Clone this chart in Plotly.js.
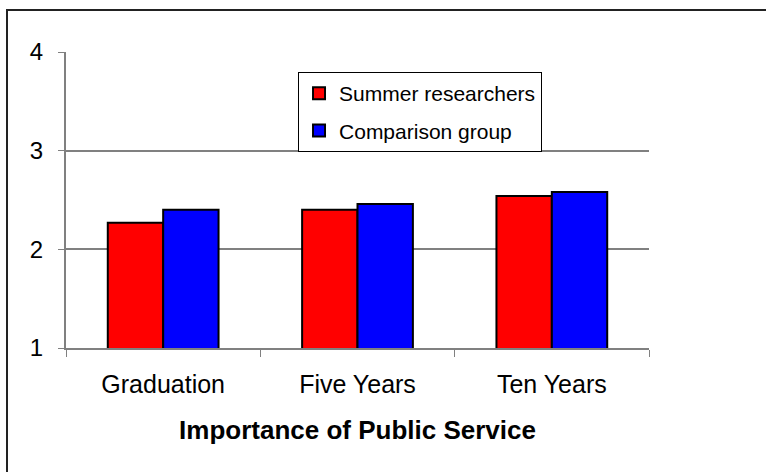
<!DOCTYPE html>
<html>
<head>
<meta charset="utf-8">
<script src="https://cdn.plot.ly/plotly-3.0.1.min.js"></script>
<style>
  html, body { margin: 0; padding: 0; background: #fff; }
  #wrap { position: relative; width: 766px; height: 472px; overflow: hidden; }
  #frame { position: absolute; left: 6px; top: 9px; width: 800px; height: 500px;
           border-left: 2px solid #222; border-top: 2px solid #222; pointer-events: none; }
  #chart { position: absolute; left: 0; top: 0; width: 766px; height: 472px; }
</style>
</head>
<body>
<div id="wrap">
  <div id="chart"></div>
  <div id="frame"></div>
</div>
<script>
// Mean ratings for the importance of public service, by time point
const categories = ['Graduation', 'Five Years', 'Ten Years'];
const summerResearchers = [2.27, 2.40, 2.54];
const comparisonGroup = [2.40, 2.46, 2.58];
const seriesNames = ['Summer researchers', 'Comparison group'];
const yTicks = [1, 2, 3, 4];

const fontFamily = 'Arial, "Liberation Sans", sans-serif';

const traces = [
  {
    type: 'bar', name: seriesNames[0], x: categories, y: summerResearchers,
    legendgroup: 'a',
    marker: { color: '#ff0000', line: { color: '#000000', width: 2 } },
    hoverinfo: 'skip'
  },
  {
    type: 'bar', name: seriesNames[1], x: categories, y: comparisonGroup,
    legendgroup: 'b',
    marker: { color: '#0000ff', line: { color: '#000000', width: 2 } },
    hoverinfo: 'skip'
  }
];

const layout = {
  width: 766, height: 472,
  margin: { l: 66, r: 117, t: 52, b: 124 },
  paper_bgcolor: '#ffffff', plot_bgcolor: '#ffffff',
  font: { family: fontFamily, color: '#000000' },
  barmode: 'group', bargap: 0.43, bargroupgap: 0,
  showlegend: true,
  legend: {
    x: 0.398, y: 0.932, xanchor: 'left', yanchor: 'top',
    bgcolor: '#ffffff', bordercolor: '#000000', borderwidth: 1,
    font: { size: 21, family: fontFamily },
    traceorder: 'grouped', tracegroupgap: 7
  },
  xaxis: {
    type: 'category',
    showline: true, linecolor: '#808080', linewidth: 2,
    ticks: 'outside', tickson: 'boundaries', ticklen: 7, tickcolor: '#808080', tickwidth: 1,
    tickfont: { size: 25 }, ticklabelstandoff: 13,
    showgrid: false,
    title: { text: '<b>Importance of Public Service</b>', font: { size: 26 }, standoff: 24 }
  },
  yaxis: {
    range: [1, 4], tickvals: yTicks, ticktext: yTicks.map(String),
    showline: true, linecolor: '#808080', linewidth: 2,
    ticks: 'outside', ticklen: 6, tickcolor: '#808080', tickwidth: 1,
    tickfont: { size: 24 }, ticklabelstandoff: 10,
    showgrid: true, gridcolor: '#808080', gridwidth: 2,
    zeroline: false
  }
};

Plotly.newPlot('chart', traces, layout, { staticPlot: true, displayModeBar: false });
</script>
</body>
</html>
